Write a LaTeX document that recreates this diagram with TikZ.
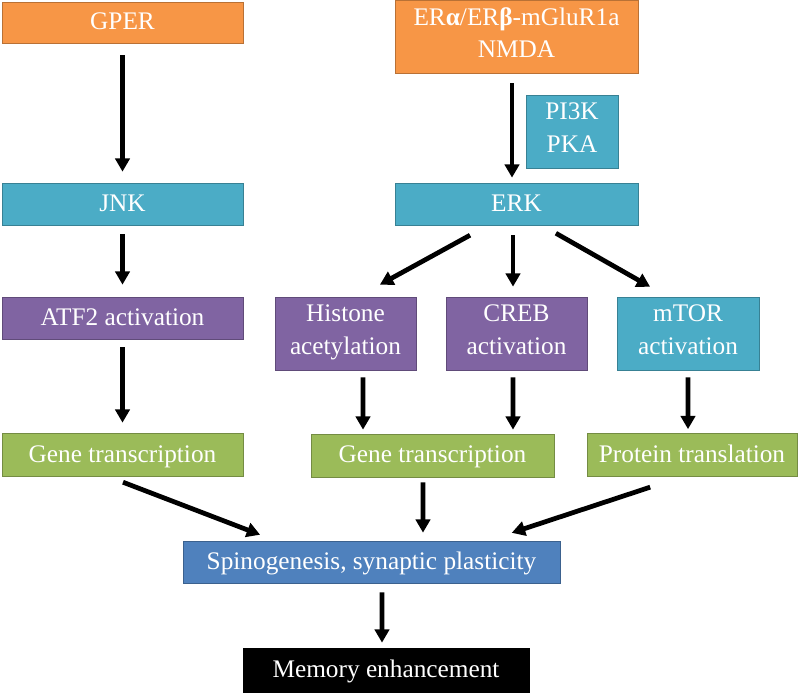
\documentclass[tikz,border=0pt]{standalone}
\usepackage{fontspec}
\setmainfont{Liberation Serif}
\usetikzlibrary{arrows.meta}

\definecolor{orng}{HTML}{F79646}
\definecolor{teal}{HTML}{4BACC6}
\definecolor{purp}{HTML}{8064A2}
\definecolor{olive}{HTML}{9BBB59}
\definecolor{blu}{HTML}{4F81BD}

\newcommand{\topstrut}{\rule{0pt}{0.88em}}
\newcommand{\botstrut}{\rule[-0.3em]{0pt}{0.3em}}

\tikzset{
  box/.style={draw=#1!75!black, fill=#1, text=white, align=center, inner sep=0pt,
    font=\fontsize{14.4}{18.5}\selectfont,
    execute at begin node=\topstrut, execute at end node=\botstrut},
  arr/.style={line width=2.7pt, -{Triangle[length=7.6pt,width=8.2pt]}}
}

\begin{document}
\begin{tikzpicture}[x=0.02cm,y=-0.02cm]
\useasboundingbox (0,0) rectangle (800,692);

% receptors
\node[box=orng, minimum width=4.82cm, minimum height=0.82cm] (gper) at (122.5,22.5) {GPER};
\node[box=orng, minimum width=4.86cm, minimum height=1.46cm] (er) at (516.5,36.5)
  {ER\textbf{α}/ER\textbf{β}-mGluR1a\\NMDA};
\node[box=teal, minimum width=1.84cm, minimum height=1.46cm] (pik) at (572,131.5) {PI3K\\PKA};

% kinases
\node[box=teal, minimum width=4.82cm, minimum height=0.84cm] (jnk) at (122.5,204) {JNK};
\node[box=teal, minimum width=4.86cm, minimum height=0.84cm] (erk) at (516.5,204) {ERK};

% effectors
\node[box=purp, minimum width=4.82cm, minimum height=0.84cm] (atf) at (122.5,318) {ATF2 activation};
\node[box=purp, minimum width=2.82cm, minimum height=1.46cm] (hist) at (345.5,333.5) {Histone\\acetylation};
\node[box=purp, minimum width=2.82cm, minimum height=1.46cm] (creb) at (516.5,333.5) {CREB\\activation};
\node[box=teal, minimum width=2.84cm, minimum height=1.46cm] (mtor) at (688,333.5) {mTOR\\activation};

\node[box=olive, minimum width=4.82cm, minimum height=0.86cm] (gtl) at (122.5,455) {Gene transcription};
\node[box=olive, minimum width=4.86cm, minimum height=0.86cm] (gtm) at (432.5,455.5) {Gene transcription};
\node[box=olive, minimum width=4.20cm, minimum height=0.86cm] (prot) at (692,455) {Protein translation};

\node[box=blu, minimum width=7.54cm, minimum height=0.84cm] (spino) at (371.5,562) {Spinogenesis, synaptic plasticity};
\node[box=black, draw=black, minimum width=5.72cm, minimum height=0.88cm] (mem) at (386,670) {Memory enhancement};

% left branch
\draw[arr, shorten <=0.24cm, shorten >=0.22cm] (gper) -- (jnk);
\draw[arr, shorten <=0.18cm, shorten >=0.24cm] (jnk) -- (atf);
\draw[arr, shorten <=0.16cm, shorten >=0.21cm] (atf) -- (gtl);

% right branch
\draw[arr, shorten <=0.2cm, shorten >=0.1cm] ([xshift=-0.09cm]er.south) -- ([xshift=-0.09cm]erk.north);
\draw[arr, shorten <=0.41cm, shorten >=0.5cm] ([xshift=-0.57cm]erk.south) -- ([xshift=0.25cm]hist.north);
\draw[arr, shorten <=0.2cm, shorten >=0.2cm] ([xshift=-0.07cm]erk.south) -- ([xshift=-0.07cm]creb.north);
\draw[arr, shorten <=0.32cm, shorten >=0.4cm] ([xshift=0.51cm]erk.south) -- ([xshift=-0.41cm]mtor.north);

\draw[arr, shorten <=0.14cm, shorten >=0.08cm] ([xshift=0.35cm]hist.south) -- ([xshift=-1.39cm]gtm.north);
\draw[arr, shorten <=0.14cm, shorten >=0.08cm] ([xshift=-0.07cm]creb.south) -- ([xshift=1.61cm]gtm.north);
\draw[arr, shorten <=0.14cm, shorten >=0.08cm] (mtor.south) -- ([xshift=-0.08cm]prot.north);

% convergence
\draw[arr, shorten <=0.3cm, shorten >=0.33cm] ([xshift=-0.27cm]gtl.south) -- ([xshift=-1.92cm]spino.north);
\draw[arr, shorten <=0.1cm, shorten >=0.16cm] ([xshift=-0.19cm]gtm.south) -- ([xshift=1.03cm]spino.north);
\draw[arr, shorten <=0.66cm, shorten >=0.5cm] ([xshift=-0.21cm]prot.south) -- ([xshift=2.33cm]spino.north);
\draw[arr, shorten <=0.18cm, shorten >=0.1cm] ([xshift=0.21cm]spino.south) -- ([xshift=-0.08cm]mem.north);
\end{tikzpicture}
\end{document}
